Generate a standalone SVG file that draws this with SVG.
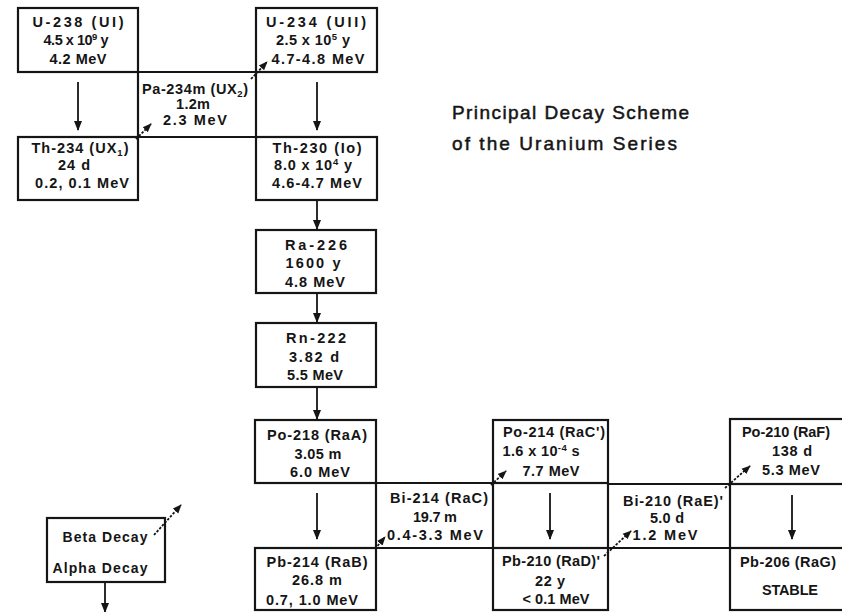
<svg xmlns="http://www.w3.org/2000/svg" width="842" height="612" viewBox="0 0 842 612">
<defs>
<style>
.box{fill:none;stroke:#151515;stroke-width:2.2}
.ln{stroke:#151515;stroke-width:2.2;fill:none}
.t{font-family:"Liberation Sans",Arial,sans-serif;font-weight:bold;font-size:14.5px;fill:#151515;text-anchor:middle}
.ttl{font-family:"Liberation Sans",Arial,sans-serif;font-size:19px;fill:#151515;stroke:#151515;stroke-width:0.5}
.lg{font-family:"Liberation Sans",Arial,sans-serif;font-weight:bold;font-size:14px;fill:#151515;text-anchor:middle}
.a{stroke:#151515;stroke-width:1.8;fill:none;marker-end:url(#ah)}
.b{stroke:#151515;stroke-width:1.8;fill:none;stroke-dasharray:2.5 1.5;marker-end:url(#bh)}
.sup{font-size:9.5px}
</style>
<marker id="ah" markerUnits="userSpaceOnUse" markerWidth="10" markerHeight="10" viewBox="0 0 10 10" refX="9" refY="5" orient="auto">
<path d="M0,1 L10,5 L0,9 Z" fill="#151515"/>
</marker>
<marker id="bh" markerUnits="userSpaceOnUse" markerWidth="9" markerHeight="9" viewBox="0 0 10 10" refX="9" refY="5" orient="auto">
<path d="M0,1 L10,5 L0,9 Z" fill="#151515"/>
</marker>
</defs>
<rect width="842" height="612" fill="#ffffff"/>

<g id="title">
<text class="ttl" x="452" y="119" textLength="237" lengthAdjust="spacing">Principal Decay Scheme</text>
<text class="ttl" x="452" y="150" textLength="225" lengthAdjust="spacing">of the Uranium Series</text>
</g>

<g id="connectors">
<path class="ln" d="M138,72 H256 M138,137 H256 M138,72 V137 M256,72 V137"/>
<path class="ln" d="M376,483 H493 M376,548 H493 M376,483 V548 M493,483 V548"/>
<path class="ln" d="M608,484 H730 M608,548 H730 M608,484 V548 M730,484 V548"/>
<line class="a" x1="78" y1="82" x2="78" y2="130"/>
<line class="a" x1="317" y1="82" x2="317" y2="130"/>
<line class="a" x1="317" y1="201" x2="317" y2="229"/>
<line class="a" x1="317" y1="294" x2="317" y2="322"/>
<line class="a" x1="317" y1="388" x2="317" y2="419"/>
<line class="a" x1="317" y1="493" x2="317" y2="539"/>
<line class="a" x1="550" y1="493" x2="550" y2="539"/>
<line class="a" x1="792" y1="495" x2="792" y2="539"/>
<line class="b" x1="136" y1="139" x2="151" y2="124"/>
<line class="b" x1="251" y1="79" x2="267" y2="62"/>
<line class="b" x1="375" y1="549" x2="385" y2="537"/>
<line class="b" x1="491" y1="485" x2="506" y2="471"/>
<line class="b" x1="604" y1="556" x2="631" y2="531"/>
<line class="b" x1="725" y1="488" x2="750" y2="466"/>
</g>

<g id="U-238">
<rect class="box" x="18" y="8" width="120" height="64"/>
<text class="t" x="78" y="27" textLength="91" lengthAdjust="spacing">U-238 (UI)</text>
<text class="t" x="76" y="45" textLength="65" lengthAdjust="spacing">4.5 x 10<tspan class="sup" dy="-5">9</tspan><tspan dy="5"> y</tspan></text>
<text class="t" x="78" y="64" textLength="57" lengthAdjust="spacing">4.2 MeV</text>
</g>

<g id="Th-234">
<rect class="box" x="18" y="137" width="120" height="63"/>
<text class="t" x="80" y="153" textLength="97" lengthAdjust="spacing">Th-234 (UX<tspan class="sup" dy="3">1</tspan><tspan dy="-3">)</tspan></text>
<text class="t" x="74" y="170" textLength="32" lengthAdjust="spacing">24 d</text>
<text class="t" x="82" y="188" textLength="94" lengthAdjust="spacing">0.2, 0.1 MeV</text>
</g>

<g id="Pa-234m">
<text class="t" x="195" y="94" textLength="106" lengthAdjust="spacing">Pa-234m (UX<tspan class="sup" dy="3">2</tspan><tspan dy="-3">)</tspan></text>
<text class="t" x="193" y="109" textLength="34" lengthAdjust="spacing">1.2m</text>
<text class="t" x="195" y="125" textLength="64" lengthAdjust="spacing">2.3 MeV</text>
</g>

<g id="U-234">
<rect class="box" x="256" y="8" width="121" height="64"/>
<text class="t" x="316" y="27" textLength="100" lengthAdjust="spacing">U-234 (UII)</text>
<text class="t" x="313" y="45" textLength="74" lengthAdjust="spacing">2.5 x 10<tspan class="sup" dy="-5">5</tspan><tspan dy="5"> y</tspan></text>
<text class="t" x="318" y="64" textLength="93" lengthAdjust="spacing">4.7-4.8 MeV</text>
</g>

<g id="Th-230">
<rect class="box" x="256" y="137" width="121" height="63"/>
<text class="t" x="317" y="153" textLength="89" lengthAdjust="spacing">Th-230 (Io)</text>
<text class="t" x="313" y="170" textLength="78" lengthAdjust="spacing">8.0 x 10<tspan class="sup" dy="-5">4</tspan><tspan dy="5"> y</tspan></text>
<text class="t" x="317" y="188" textLength="90" lengthAdjust="spacing">4.6-4.7 MeV</text>
</g>

<g id="Ra-226">
<rect class="box" x="256" y="230" width="120" height="63"/>
<text class="t" x="316" y="250" textLength="62" lengthAdjust="spacing">Ra-226</text>
<text class="t" x="313" y="268" textLength="55" lengthAdjust="spacing">1600 y</text>
<text class="t" x="315" y="287" textLength="60" lengthAdjust="spacing">4.8 MeV</text>
</g>

<g id="Rn-222">
<rect class="box" x="256" y="323" width="120" height="64"/>
<text class="t" x="316" y="343" textLength="60" lengthAdjust="spacing">Rn-222</text>
<text class="t" x="314" y="362" textLength="50" lengthAdjust="spacing">3.82 d</text>
<text class="t" x="315" y="380" textLength="56" lengthAdjust="spacing">5.5 MeV</text>
</g>

<g id="Po-218">
<rect class="box" x="255" y="420" width="121" height="63"/>
<text class="t" x="317" y="440" textLength="100" lengthAdjust="spacing">Po-218 (RaA)</text>
<text class="t" x="318" y="459" textLength="47" lengthAdjust="spacing">3.05 m</text>
<text class="t" x="320" y="477" textLength="60" lengthAdjust="spacing">6.0 MeV</text>
</g>

<g id="Pb-214">
<rect class="box" x="255" y="548" width="121" height="62"/>
<text class="t" x="317" y="567" textLength="101" lengthAdjust="spacing">Pb-214 (RaB)</text>
<text class="t" x="317" y="585" textLength="50" lengthAdjust="spacing">26.8 m</text>
<text class="t" x="312" y="605" textLength="92" lengthAdjust="spacing">0.7, 1.0 MeV</text>
</g>

<g id="Bi-214">
<text class="t" x="439" y="503" textLength="98" lengthAdjust="spacing">Bi-214 (RaC)</text>
<text class="t" x="435" y="522" textLength="44" lengthAdjust="spacing">19.7 m</text>
<text class="t" x="435" y="540" textLength="96" lengthAdjust="spacing">0.4-3.3 MeV</text>
</g>

<g id="Po-214">
<rect class="box" x="493" y="420" width="115" height="63"/>
<text class="t" x="554" y="437" textLength="102" lengthAdjust="spacing">Po-214 (RaC')</text>
<text class="t" x="541" y="456" textLength="77" lengthAdjust="spacing">1.6 x 10<tspan class="sup" dy="-5">-4</tspan><tspan dy="5"> s</tspan></text>
<text class="t" x="551" y="476" textLength="57" lengthAdjust="spacing">7.7 MeV</text>
</g>

<g id="Pb-210">
<rect class="box" x="493" y="548" width="115" height="62"/>
<text class="t" x="551" y="566" textLength="98" lengthAdjust="spacing">Pb-210 (RaD)'</text>
<text class="t" x="550" y="586" textLength="30" lengthAdjust="spacing">22 y</text>
<text class="t" x="556" y="604" textLength="67" lengthAdjust="spacing">&lt; 0.1 MeV</text>
</g>

<g id="Bi-210">
<text class="t" x="673" y="506" textLength="100" lengthAdjust="spacing">Bi-210 (RaE)'</text>
<text class="t" x="667" y="523" textLength="34" lengthAdjust="spacing">5.0 d</text>
<text class="t" x="665" y="540" textLength="65" lengthAdjust="spacing">1.2 MeV</text>
</g>

<g id="Po-210">
<rect class="box" x="730" y="419" width="130" height="65"/>
<text class="t" x="786" y="437" textLength="88" lengthAdjust="spacing">Po-210 (RaF)</text>
<text class="t" x="792" y="456" textLength="40" lengthAdjust="spacing">138 d</text>
<text class="t" x="791" y="475" textLength="58" lengthAdjust="spacing">5.3 MeV</text>
</g>

<g id="Pb-206">
<rect class="box" x="730" y="548" width="130" height="62"/>
<text class="t" x="788" y="567" textLength="96" lengthAdjust="spacing">Pb-206 (RaG)</text>
<text class="t" x="790" y="595" textLength="56" lengthAdjust="spacing">STABLE</text>
</g>

<g id="legend">
<rect class="box" x="47" y="518" width="118" height="64"/>
<text class="lg" x="105" y="542" textLength="85" lengthAdjust="spacing">Beta Decay</text>
<text class="lg" x="100" y="573" textLength="95" lengthAdjust="spacing">Alpha Decay</text>
<line class="b" x1="154" y1="535" x2="181" y2="505"/>
<line class="a" x1="105" y1="583" x2="105" y2="612"/>
</g>
</svg>
